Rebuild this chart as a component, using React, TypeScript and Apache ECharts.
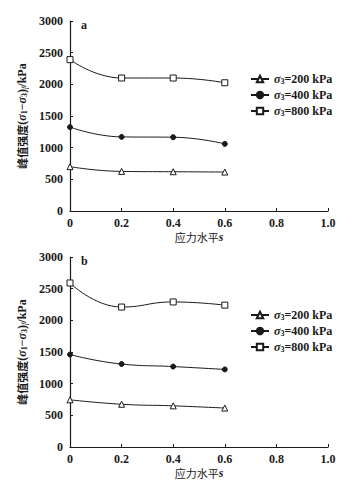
import React, { useEffect, useRef } from "react";
import * as echarts from "echarts";

const levels = [0, 0.2, 0.4, 0.6];
const seriesNames = ["200", "400", "800"];
const aS200 = [700, 625, 620, 615];
const aS400 = [1325, 1170, 1165, 1060];
const aS800 = [2390, 2100, 2100, 2025];
const bS200 = [745, 675, 650, 615];
const bS400 = [1460, 1310, 1270, 1225];
const bS800 = [2590, 2210, 2290, 2240];
const yTicks = [0, 500, 1000, 1500, 2000, 2500, 3000];

const SERIF = "Liberation Serif, Times New Roman, serif";
const CJK = "Noto Sans CJK SC";
const INK = "#1a1a1a";

const markers: Record<string, { symbol: string; size: number; fill: string }> = {
  "200": { symbol: "triangle", size: 6, fill: "#ffffff" },
  "400": { symbol: "circle", size: 5, fill: INK },
  "800": { symbol: "rect", size: 6, fill: "#ffffff" },
};

function pairs(vals: number[]) {
  return levels.map((x, i) => [x, vals[i]]);
}

const subRich = {
  g: { fontFamily: SERIF, fontStyle: "italic", fontSize: 12, color: INK, fontWeight: "bold" },
  s: { fontFamily: SERIF, fontSize: 8, color: INK, fontWeight: "bold", verticalAlign: "bottom", padding: [4, 0, 0, 0] },
  t: { fontFamily: SERIF, fontSize: 12, color: INK, fontWeight: "bold" },
};

export default function App() {
  const ref = useRef<HTMLDivElement>(null);
  useEffect(() => {
    if (!ref.current) return;
    const chart = echarts.init(ref.current, null, { renderer: "svg" });
    const grids = [
      { left: 70, right: 33, top: 21, height: 190 },
      { left: 70, right: 33, top: 257, height: 190 },
    ];
    const xAxis = grids.map((_, gi) => ({
      type: "value",
      gridIndex: gi,
      min: 0,
      max: 1,
      interval: 0.2,
      axisLine: { lineStyle: { color: INK, width: 1.2 } },
      axisTick: { inside: true, length: 3, lineStyle: { color: INK } },
      splitLine: { show: false },
      axisLabel: {
        color: INK,
        fontFamily: SERIF,
        fontSize: 12,
        fontWeight: "bold",
        margin: 6,
        formatter: (v: number) => (v === 0 ? "0" : v.toFixed(1)),
      },
      name: "{c|应力水平}{i|s}",
      nameLocation: "middle",
      nameGap: 20,
      nameTextStyle: {
        rich: {
          c: { fontFamily: CJK, fontSize: 11, color: INK },
          i: { fontFamily: SERIF, fontStyle: "italic", fontSize: 12, color: INK, fontWeight: "bold" },
        },
      },
    }));
    const yAxis = grids.map((_, gi) => ({
      type: "value",
      gridIndex: gi,
      min: yTicks[0],
      max: yTicks[yTicks.length - 1],
      interval: 500,
      axisLine: { show: true, lineStyle: { color: INK, width: 1.2 } },
      axisTick: { show: true, inside: true, length: 3, lineStyle: { color: INK } },
      splitLine: { show: false },
      axisLabel: {
        color: INK,
        fontFamily: SERIF,
        fontSize: 12,
        fontWeight: "bold",
        margin: 7,
        formatter: (v: number) => String(v),
      },
      name: "{c|峰值强度}{t|(}{g|σ}{s|1}{t|−}{g|σ}{s|3}{t|)}{si|f}{t|/kPa}",
      nameLocation: "middle",
      nameRotate: 90,
      nameGap: 37,
      nameTextStyle: {
        rich: {
          ...subRich,
          c: { fontFamily: CJK, fontSize: 11, color: INK, fontWeight: "bold" },
          si: { fontFamily: SERIF, fontStyle: "italic", fontSize: 8, color: INK, verticalAlign: "bottom", padding: [4, 0, 0, 0] },
        },
      },
    }));
    const dataSets = [
      [aS200, aS400, aS800],
      [bS200, bS400, bS800],
    ];
    const series: any[] = [];
    dataSets.forEach((set, gi) => {
      set.forEach((vals, si) => {
        const key = seriesNames[si];
        const m = markers[key];
        series.push({
          type: "line",
          name: key,
          xAxisIndex: gi,
          yAxisIndex: gi,
          data: pairs(vals),
          smooth: true,
          symbol: m.symbol,
          symbolSize: m.size,
          showSymbol: true,
          lineStyle: { color: INK, width: 1 },
          itemStyle: { color: m.fill, borderColor: INK, borderWidth: 1 },
          emphasis: { disabled: true },
        });
      });
    });
    const legends = [68, 304].map((top) => ({
      orient: "vertical",
      left: 245,
      top,
      itemWidth: 18,
      itemHeight: 8,
      itemGap: 4,
      data: seriesNames,
      formatter: (name: string) => `{g|σ}{s|3}{t|=${name} kPa}`,
      textStyle: { rich: subRich },
    }));
    chart.setOption({
      animation: false,
      backgroundColor: "#ffffff",
      grid: grids,
      xAxis,
      yAxis,
      series,
      legend: legends,
      graphic: [
        { type: "text", left: 81, top: 19, style: { text: "a", fontFamily: SERIF, fontWeight: "bold", fontSize: 12, fill: INK } },
        { type: "text", left: 81, top: 255, style: { text: "b", fontFamily: SERIF, fontWeight: "bold", fontSize: 12, fill: INK } },
      ],
    });
    return () => chart.dispose();
  }, []);
  return (
    <div
      ref={ref}
      style={{ position: "fixed", left: 0, top: 0, width: 361, height: 485, background: "#fff" }}
    />
  );
}
